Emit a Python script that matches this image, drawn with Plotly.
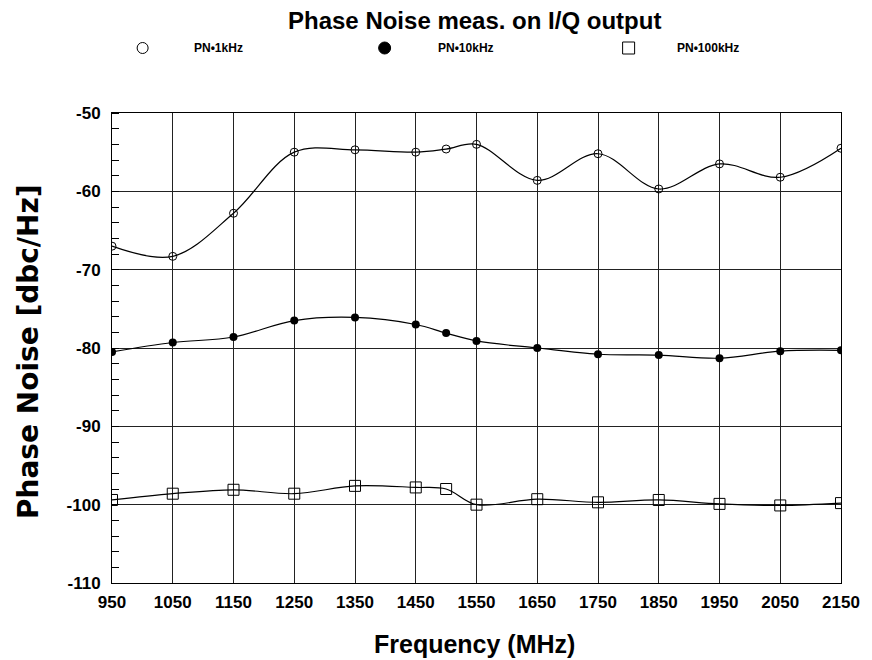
import plotly.graph_objects as go

freq = [950, 1050, 1150, 1250, 1350, 1450, 1500, 1550, 1650, 1750, 1850, 1950, 2050, 2150]
pn_1k = [-67.0, -68.3, -62.8, -55.0, -54.7, -55.0, -54.6, -54.0, -58.6, -55.2, -59.7, -56.5, -58.2, -54.5]
pn_10k = [-80.5, -79.3, -78.6, -76.5, -76.1, -77.0, -78.1, -79.1, -80.0, -80.8, -80.9, -81.3, -80.4, -80.3]
pn_100k = [-99.4, -98.6, -98.1, -98.6, -97.6, -97.8, -98.0, -100.0, -99.3, -99.7, -99.4, -99.9, -100.1, -99.8]
x_ticks = [950, 1050, 1150, 1250, 1350, 1450, 1550, 1650, 1750, 1850, 1950, 2050, 2150]
y_ticks = [-110, -100, -90, -80, -70, -60, -50]
series_names = ["PN\u20221kHz", "PN\u202210kHz", "PN\u2022100kHz"]

FONT = "Liberation Sans, Arial, sans-serif"
FONT_WIDE = "DejaVu Sans, Verdana, sans-serif"
W, H = 872, 660
# plot box in page pixels: left 112, right 850, top 113, bottom 583
ML, MR, MT, MB = 112, W - 850, 113, H - 583
PW, PH = W - ML - MR, H - MT - MB

def px2paper(px, py):
    return (px - ML) / PW, (H - MB - py) / PH

fig = go.Figure()
fig.add_trace(go.Scatter(x=freq, y=pn_1k, mode="lines+markers", name=series_names[0],
                         line=dict(color="black", width=1.2, shape="spline", smoothing=1),
                         marker=dict(symbol="circle-open", size=8, color="black", line=dict(width=1))))
fig.add_trace(go.Scatter(x=freq, y=pn_10k, mode="lines+markers", name=series_names[1],
                         line=dict(color="black", width=1.2, shape="spline", smoothing=1),
                         marker=dict(symbol="circle", size=8, color="black")))
fig.add_trace(go.Scatter(x=freq, y=pn_100k, mode="lines+markers", name=series_names[2],
                         line=dict(color="black", width=1.2, shape="spline", smoothing=1),
                         marker=dict(symbol="square-open", size=11, color="black", line=dict(width=1))))

shapes = []
annotations = []
legend_items = [
    (143, 48, "circle", False, 11, 193),
    (388, 48, "circle", True, 12, 440),
    (635, 48, "rect", False, 12, 682),
]
for (cx, cy, kind, filled, d, tx), name in zip(legend_items, series_names):
    px_, py_ = px2paper(cx, cy)
    shapes.append(dict(type=kind, xref="paper", yref="paper", xsizemode="pixel", ysizemode="pixel",
                       xanchor=px_, yanchor=py_, x0=-d / 2, x1=d / 2, y0=-d / 2, y1=d / 2,
                       line=dict(color="black", width=1),
                       fillcolor="black" if filled else "rgba(0,0,0,0)"))
    tpx, tpy = px2paper(tx, cy)
    annotations.append(dict(text=name, x=tpx, y=tpy, xref="paper", yref="paper", xanchor="left",
                            yanchor="middle", showarrow=False,
                            font=dict(family=FONT, size=12, color="black", weight="bold")))

tx, ty = px2paper(479, 21)
annotations.append(dict(text="Phase Noise meas. on I/Q output", x=tx, y=ty, xref="paper", yref="paper",
                        xanchor="center", yanchor="middle", showarrow=False,
                        font=dict(family=FONT, size=24, color="black", weight="bold")))
tx, ty = px2paper(27, 352)
annotations.append(dict(text="Phase Noise [dbc/Hz]", x=tx, y=ty, xref="paper", yref="paper",
                        xanchor="center", yanchor="middle", showarrow=False, textangle=-90,
                        font=dict(family=FONT_WIDE, size=28, color="black", weight="bold")))
tx, ty = px2paper(479, 644)
annotations.append(dict(text="Frequency (MHz)", x=tx, y=ty, xref="paper", yref="paper",
                        xanchor="center", yanchor="middle", showarrow=False,
                        font=dict(family=FONT, size=25, color="black", weight="bold")))

fig.update_layout(
    width=W, height=H,
    margin=dict(l=ML, r=MR, t=MT, b=MB),
    paper_bgcolor="white", plot_bgcolor="white",
    showlegend=False,
    shapes=shapes, annotations=annotations,
    xaxis=dict(range=[950, 2150], tickvals=x_ticks, ticktext=[str(v) for v in x_ticks],
               showgrid=True, gridcolor="#222", gridwidth=1, zeroline=False,
               showline=True, linecolor="black", linewidth=1, mirror=True, ticks="",
               ticklabelstandoff=4,
               tickfont=dict(family=FONT, size=17, color="black", weight="bold")),
    yaxis=dict(range=[-110, -50], tickvals=y_ticks, ticktext=[str(v) for v in y_ticks],
               showgrid=True, gridcolor="#222", gridwidth=1, zeroline=False,
               showline=True, linecolor="black", linewidth=1, mirror=True, ticks="",
               ticklabelstandoff=7,
               minor=dict(dtick=2, ticks="inside", ticklen=7, tickcolor="black", tickwidth=1, showgrid=False),
               tickfont=dict(family=FONT, size=17, color="black", weight="bold")),
)

fig.write_html("out.html", config={"displayModeBar": False},
               post_script="document.body.style.margin='0';document.body.style.overflow='hidden';")
